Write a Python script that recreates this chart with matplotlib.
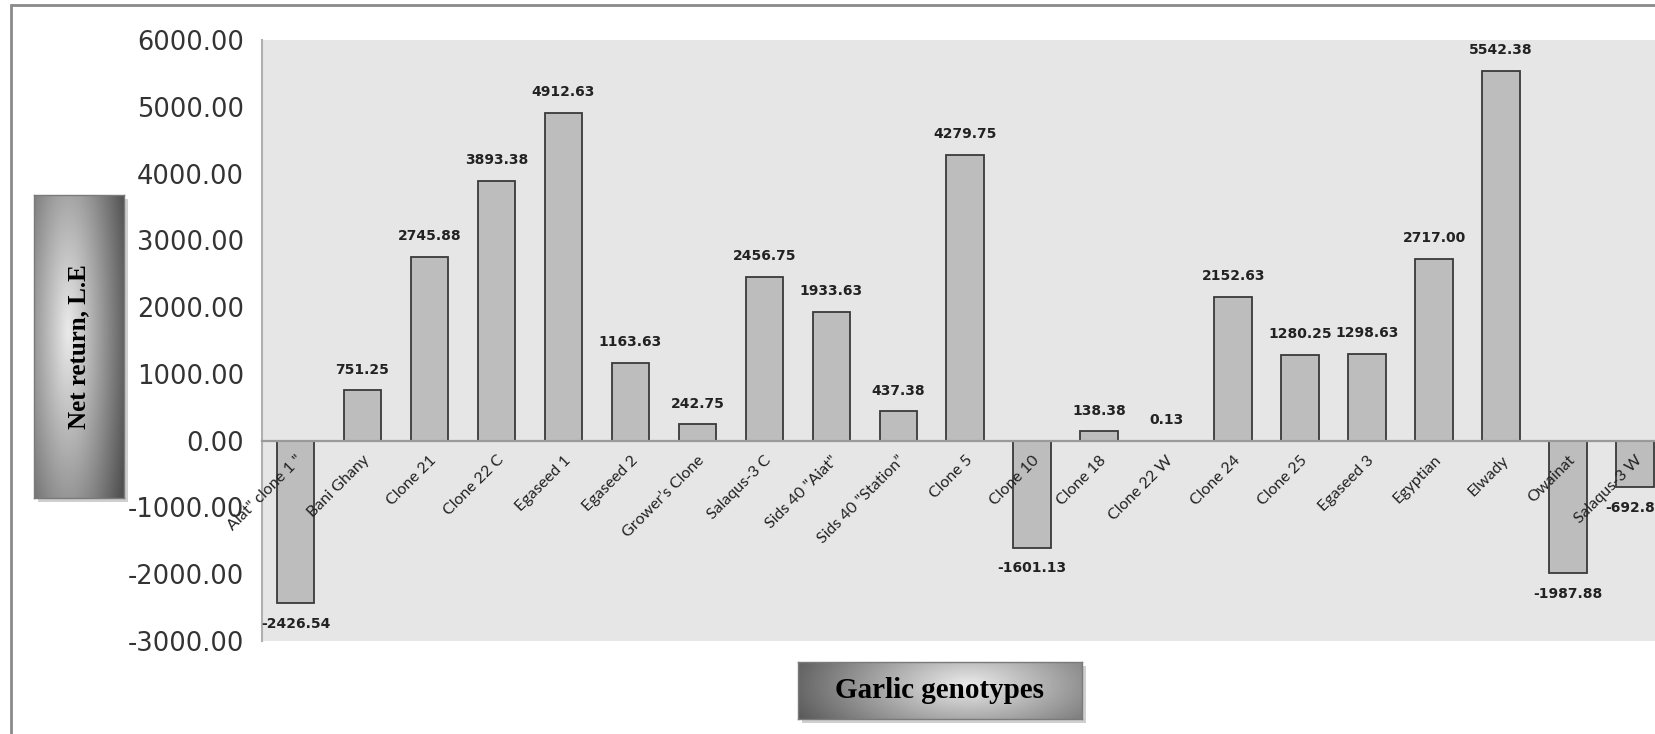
import matplotlib
matplotlib.use('Agg')
import matplotlib.pyplot as plt
import numpy as np
from matplotlib.patches import Rectangle

genotypes = ['Aiat" clone 1 "', 'Bani Ghany', 'Clone 21', 'Clone 22 C', 'Egaseed 1',
             'Egaseed 2', 'Grower\u2019s Clone', 'Salaqus-3 C', 'Sids 40 "Aiat"',
             'Sids 40 "Station\u201d', 'Clone 5', 'Clone 10', 'Clone 18', 'Clone 22 W',
             'Clone 24', 'Clone 25', 'Egaseed 3', 'Egyptian', 'Elwady', 'Owainat',
             'Salaqus-3 W']
net_return = [-2426.54, 751.25, 2745.88, 3893.38, 4912.63, 1163.63, 242.75, 2456.75,
              1933.63, 437.38, 4279.75, -1601.13, 138.38, 0.13, 2152.63, 1280.25,
              1298.63, 2717.00, 5542.38, -1987.88, -692.88]
yticks = [-3000, -2000, -1000, 0, 1000, 2000, 3000, 4000, 5000, 6000]

W, H = 1656, 734
fig = plt.figure(figsize=(W / 100, H / 100), dpi=100)
fig.patch.set_facecolor('white')

# outer frame (cut off at right and bottom like the reference)
fig.add_artist(Rectangle((11 / W, -0.2), 2, 1 - 5.5 / H + 0.2, transform=fig.transFigure,
                         fill=False, ec='#8a8a8a', lw=2, zorder=-2))

# plot area runs past the right edge of the image
left, right, top, bottom = 262, 1668.5, 40, 641
ax = fig.add_axes([left / W, 1 - bottom / H, (right - left) / W, (bottom - top) / H])
ax.set_facecolor('#e6e6e6')

x = np.arange(len(genotypes))
bars = ax.bar(x, net_return, width=0.56, color='#bdbdbd', edgecolor='#3a3a3a', lw=1.3, zorder=3)

ax.set_xlim(-0.5, len(genotypes) - 0.5)
ax.set_ylim(-3000, 6000)
ax.set_yticks(yticks)
ax.set_yticklabels(['%.2f' % v for v in yticks], fontsize=18.5, color='#333333')
ax.tick_params(axis='y', length=0, pad=13)

ax.spines['bottom'].set_position(('data', 0))
ax.spines['bottom'].set_color('#9a9a9a')
ax.spines['bottom'].set_linewidth(1.6)
ax.spines['bottom'].set_zorder(4)
ax.spines['left'].set_color('#b0b0b0')
ax.spines['left'].set_linewidth(1.5)
ax.spines['top'].set_visible(False)
ax.spines['right'].set_visible(False)

ax.set_xticks(x)
ax.set_xticklabels(genotypes, rotation=45, ha='right', rotation_mode='anchor',
                   fontsize=11.5, family=['Lato', 'DejaVu Sans'], color='#222222')
ax.tick_params(axis='x', length=0, pad=9)
ax.xaxis.set_zorder(5)

for xi, v in zip(x, net_return):
    if v >= 0:
        ax.annotate('%.2f' % v, (xi, v), xytext=(0, 10), textcoords='offset points',
                    ha='center', va='bottom', fontsize=10, fontweight='bold', color='#222222')
    else:
        ax.annotate('%.2f' % v, (xi, v), xytext=(0, -10), textcoords='offset points',
                    ha='center', va='top', fontsize=10, fontweight='bold', color='#222222')


def grad_box(px, text, rot, size, cx, cy, sx, sy):
    x0, y0, x1, y1 = px
    # soft shadow behind the box
    fig.add_artist(Rectangle(((x0 + 4) / W, 1 - (y1 + 4) / H), (x1 - x0) / W, (y1 - y0) / H,
                             transform=fig.transFigure, fc='#cfcfcf', ec='none', zorder=-1))
    bx = fig.add_axes([x0 / W, 1 - y1 / H, (x1 - x0) / W, (y1 - y0) / H])
    yy, xx = np.mgrid[0:1:200j, 0:1:200j]
    d = np.sqrt(((xx - cx) / sx) ** 2 + ((yy - cy) / sy) ** 2)
    val = np.clip(0.92 - 0.6 * d, 0.32, 1)
    bx.imshow(val, cmap='gray', vmin=0, vmax=1, extent=[0, 1, 0, 1], aspect='auto',
              origin='lower', interpolation='bilinear')
    bx.set_xticks([])
    bx.set_yticks([])
    for s in bx.spines.values():
        s.set_color('#7a7a7a')
        s.set_linewidth(1)
    bx.text(0.5, 0.5, text, rotation=rot, ha='center', va='center', fontsize=size,
            fontweight='bold', family=['Liberation Serif', 'DejaVu Serif'], color='black',
            transform=bx.transAxes)


grad_box((34, 195, 124, 498), 'Net return, L.E', 90, 18, 0.38, 0.55, 0.7, 1.0)
grad_box((798, 662, 1082, 719), 'Garlic genotypes', 0, 21, 0.6, 0.6, 0.7, 1.4)

fig.savefig('out.png', dpi=100)
